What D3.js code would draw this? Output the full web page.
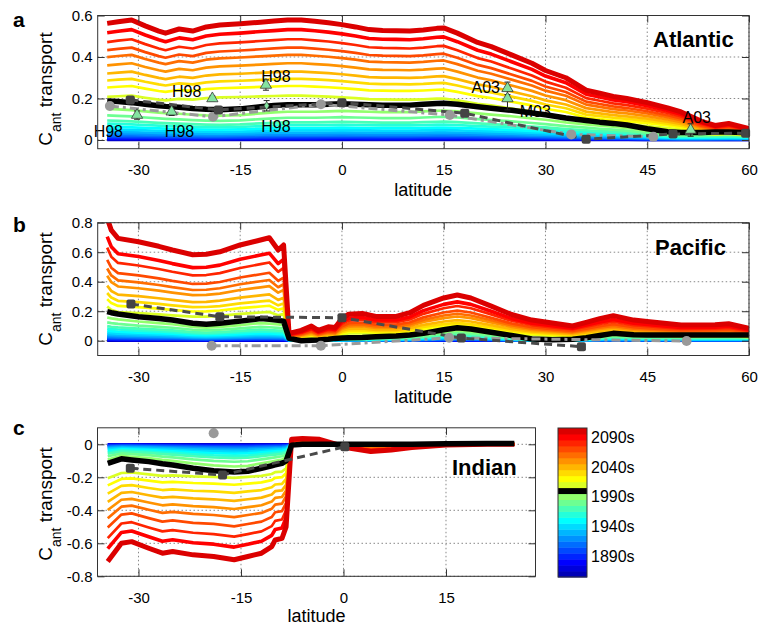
<!DOCTYPE html>
<html>
<head>
<meta charset="utf-8">
<script src="https://cdn.jsdelivr.net/npm/d3@7"></script>
<style>
  body { margin: 0; background: #fff; }
  svg text { font-family: "Liberation Sans", Arial, Helvetica, sans-serif; fill: #000; }
</style>
</head>
<body>
<svg id="fig" width="759" height="626"></svg>
<script>
// ---- data ----

// one curve per decade, 2000 is the present-day (black) curve
const decades = [1860, 1870, 1880, 1890, 1900, 1910, 1920, 1930, 1940, 1950, 1960, 1970, 1980,
                 1990, 2000, 2010, 2020, 2030, 2040, 2050, 2060, 2070, 2080, 2090, 2100];
const presentDecade = 2000;
const colorbarTicks = [1890, 1940, 1990, 2040, 2090];

// past decades (1860..1990) as a share of the present curve
const pastFrac = [0.005, 0.018, 0.035, 0.055, 0.085, 0.12, 0.16, 0.21, 0.27, 0.34, 0.42, 0.50, 0.63, 0.80];

// Atlantic
const atlLat = [-34.6, -33, -31, -29, -27, -26, -24, -22, -20, -18, -15, -12, -10, -8, -6, -4, -2, 0, 2, 4,
                6, 8, 10, 12, 14, 15, 17, 20, 22, 25, 28, 30, 33, 36, 38, 40, 42, 45, 48, 50, 53, 55, 57, 60];
const atl2100 = [0.562, 0.570, 0.578, 0.550, 0.525, 0.515, 0.535, 0.525, 0.545, 0.554,
                 0.560, 0.568, 0.573, 0.578, 0.578, 0.572, 0.565, 0.556, 0.545, 0.532,
                 0.528, 0.527, 0.525, 0.530, 0.538, 0.540, 0.515, 0.470, 0.450, 0.410,
                 0.370, 0.335, 0.300, 0.240, 0.225, 0.210, 0.200, 0.180, 0.155, 0.135,
                 0.090, 0.070, 0.080, 0.055];
const atl2000 = [0.188, 0.185, 0.180, 0.172, 0.165, 0.162, 0.158, 0.152, 0.148, 0.146,
                 0.150, 0.160, 0.166, 0.170, 0.170, 0.170, 0.172, 0.175, 0.172, 0.170,
                 0.168, 0.168, 0.168, 0.172, 0.176, 0.177, 0.172, 0.160, 0.153, 0.143,
                 0.130, 0.122, 0.106, 0.094, 0.086, 0.080, 0.072, 0.054, 0.040, 0.036,
                 0.036, 0.038, 0.039, 0.035];
// 2010..2090 as a share of the 2100 curve
const atlFutureFrac = [0.37, 0.45, 0.51, 0.57, 0.64, 0.71, 0.77, 0.84, 0.92];
const atlSquares = [[-31.2, 0.193], [-18.2, 0.145], [0, 0.18], [18.1, 0.129], [36, 0.003], [48.8, 0.029], [59.5, 0.033]];
const atlCircles = [[-34.2, 0.164], [-19, 0.112], [-3.1, 0.172], [15.9, 0.12], [33.8, 0.027], [45.9, 0.015]];
const atlTriangles = [[-30.2, 0.12, 0.02], [-25.1, 0.136, 0.018], [-19.1, 0.2, 0.012], [-11.2, 0.265, 0.025],
                      [24.4, 0.249, 0.03], [24.4, 0.2, 0.055], [51.4, 0.048, 0.03]];
const atlSmallObs = [[-11.1, 0.165, 0.025]];
const atlObsLabels = [["H98", -36.6, 0.012], ["H98", -26.1, 0.014], ["H98", -25.05, 0.205], ["H98", -11.9, 0.281],
                      ["H98", -11.9, 0.04], ["A03", 19.1, 0.228], ["M03", 26.2, 0.112], ["A03", 50.2, 0.08]];

// Pacific
const pacLat = [-34.6, -34, -33, -30, -27, -25, -22, -20, -18, -15, -12, -10.7, -9.4, -8.6, -7.8, -6, -4.5, -3.5, -2, -1,
                0, 1, 3, 5, 8, 10, 12, 15, 17, 19, 22, 25, 28, 31, 34, 36, 38, 40, 43, 45, 50, 55, 57, 60];
const pac2100 = [0.83, 0.75, 0.694, 0.671, 0.640, 0.615, 0.583, 0.586, 0.603, 0.649,
                 0.683, 0.698, 0.615, 0.649, 0.050, 0.070, 0.100, 0.070, 0.095, 0.090,
                 0.150, 0.180, 0.185, 0.165, 0.165, 0.190, 0.240, 0.290, 0.310, 0.290,
                 0.235, 0.178, 0.140, 0.120, 0.100, 0.125, 0.150, 0.170, 0.140, 0.130,
                 0.106, 0.108, 0.115, 0.085];
const pac2000 = [0.197, 0.190, 0.181, 0.163, 0.150, 0.140, 0.118, 0.111, 0.118, 0.133,
                 0.150, 0.145, 0.138, 0.133, 0.016, 0.000, 0.003, 0.005, 0.010, 0.016,
                 0.018, 0.020, 0.022, 0.027, 0.032, 0.039, 0.050, 0.075, 0.088, 0.080,
                 0.058, 0.035, 0.012, 0.006, 0.010, 0.020, 0.035, 0.050, 0.040, 0.039,
                 0.039, 0.039, 0.039, 0.039];
const pacFutureFrac = [0.28, 0.34, 0.39, 0.45, 0.53, 0.59, 0.66, 0.76, 0.85];
const pacSquares = [[-31.1, 0.249], [-18, 0.163], [0, 0.156], [17.6, 0.018], [35.3, -0.04]];
const pacCircles = [[-19.2, -0.034], [-3.1, -0.034], [15.8, 0.02], [50.8, -0.002]];

// Indian
const indLat = [-34.5, -32.5, -31, -28.5, -26.5, -25, -22, -19, -16, -14,
                -12, -10.5, -10, -9, -8.4, -7.6, -6, -3.5, -1, 1,
                4, 7, 10, 15, 21, 25];
const ind2100 = [-0.711, -0.600, -0.590, -0.630, -0.660, -0.650, -0.670, -0.680, -0.700, -0.680,
                 -0.660, -0.620, -0.580, -0.570, -0.500, 0.030, 0.035, 0.030, 0.000, -0.024,
                 -0.044, -0.034, -0.020, -0.004, 0.000, 0.000];
const ind2000 = [-0.115, -0.088, -0.095, -0.105, -0.118, -0.125, -0.145, -0.160, -0.168, -0.163,
                 -0.145, -0.130, -0.125, -0.115, -0.100, -0.005, 0.000, 0.000, 0.000, 0.000,
                 0.000, 0.000, 0.000, 0.003, 0.005, 0.005];
const indFutureFrac = [0.29, 0.35, 0.42, 0.49, 0.56, 0.63, 0.71, 0.80, 0.89];
const indSquares = [[-31.2, -0.145], [-17.7, -0.186], [0.2, -0.015]];
const indCircles = [[-19, 0.067]];

// ---- colours: Matlab jet(m) ----
function jetColors(m) {
  const n = Math.ceil(m / 4);
  const u = [];
  for (let i = 1; i <= n; i++) u.push(i / n);
  for (let i = 1; i < n; i++) u.push(1);
  for (let i = n; i >= 1; i--) u.push(i / n);
  const off = Math.ceil(n / 2) - (m % 4 === 1 ? 1 : 0);
  const J = Array.from({ length: m }, () => [0, 0, 0]);
  u.forEach((val, i) => {
    const g = off + i + 1, r = g + n, b = g - n;
    if (g >= 1 && g <= m) J[g - 1][1] = val;
    if (r >= 1 && r <= m) J[r - 1][0] = val;
    if (b >= 1 && b <= m) J[b - 1][2] = val;
  });
  return J.map(c => d3.rgb(c[0] * 255, c[1] * 255, c[2] * 255).formatHex());
}
const jet = jetColors(decades.length);
const decadeColor = (d, i) => d === presentDecade ? "#000" : jet[i];

// ---- build the decade curves ----
function buildCurves(lat, top, present, futureFrac) {
  const pi = decades.indexOf(presentDecade);
  return decades.map((dec, k) => {
    let vals;
    if (k < pi) vals = present.map(v => v * pastFrac[k]);
    else if (k === pi) vals = present;
    else if (k === decades.length - 1) vals = top;
    else vals = top.map(v => v * futureFrac[k - pi - 1]);
    return { decade: dec, k, pts: lat.map((l, i) => [l, vals[i]]) };
  });
}

const panels = [
  { id: "a", name: "Atlantic", x0: 97.7, x1: 749, y0: 15.5, y1: 148.7,
    xDom: [-36, 60], yDom: [-0.042, 0.6], xTicks: [-30, -15, 0, 15, 30, 45, 60], yTicks: [0, 0.2, 0.4, 0.6],
    curves: buildCurves(atlLat, atl2100, atl2000, atlFutureFrac),
    squares: atlSquares, circles: atlCircles, triangles: atlTriangles, small: atlSmallObs, labels: atlObsLabels,
    nameX: 653, nameY: 47, letterY: 27, ylabelY: 89, xlabelY: 196 },
  { id: "b", name: "Pacific", x0: 97.7, x1: 749, y0: 222.7, y1: 355.5,
    xDom: [-36, 60], yDom: [-0.1, 0.8], xTicks: [-30, -15, 0, 15, 30, 45, 60], yTicks: [0, 0.2, 0.4, 0.6, 0.8],
    curves: buildCurves(pacLat, pac2100, pac2000, pacFutureFrac),
    squares: pacSquares, circles: pacCircles, triangles: [], small: [], labels: [],
    nameX: 655, nameY: 255, letterY: 232, ylabelY: 289, xlabelY: 403 },
  { id: "c", name: "Indian", x0: 97.5, x1: 535.5, y0: 427.8, y1: 576.3,
    xDom: [-36, 28.1], yDom: [-0.8, 0.1], xTicks: [-30, -15, 0, 15], yTicks: [-0.8, -0.6, -0.4, -0.2, 0],
    curves: buildCurves(indLat, ind2100, ind2000, indFutureFrac),
    squares: indSquares, circles: indCircles, triangles: [], small: [], labels: [],
    nameX: 452, nameY: 475, letterY: 435, ylabelY: 504, xlabelY: 622 }
];

const svg = d3.select("#fig");
const axisColor = "#333";

panels.forEach(p => {
  const x = d3.scaleLinear().domain(p.xDom).range([p.x0, p.x1]);
  const y = d3.scaleLinear().domain(p.yDom).range([p.y1, p.y0]);
  const g = svg.append("g");

  g.append("clipPath").attr("id", "clip-" + p.id)
    .append("rect")
      .attr("x", p.x0).attr("y", p.y0)
      .attr("width", p.x1 - p.x0).attr("height", p.y1 - p.y0);

  // grid
  g.append("g").selectAll("line").data(p.xTicks).join("line")
    .attr("x1", d => x(d)).attr("x2", d => x(d))
    .attr("y1", p.y0).attr("y2", p.y1)
    .attr("stroke", "#888").attr("stroke-width", 1).attr("stroke-dasharray", "1.5,2.5");
  g.append("g").selectAll("line").data(p.yTicks).join("line")
    .attr("x1", p.x0).attr("x2", p.x1)
    .attr("y1", d => y(d)).attr("y2", d => y(d))
    .attr("stroke", "#888").attr("stroke-width", 1).attr("stroke-dasharray", "1.5,2.5");

  // decade curves, black present-day curve on top
  const line = d3.line().x(d => x(d[0])).y(d => y(d[1]));
  const plot = g.append("g").attr("clip-path", `url(#clip-${p.id})`);
  const order = p.curves.filter(c => c.decade !== presentDecade)
    .concat(p.curves.filter(c => c.decade === presentDecade));
  plot.selectAll("path.curve").data(order).join("path")
    .attr("class", "curve")
    .attr("d", c => line(c.pts))
    .attr("fill", "none")
    .attr("stroke", c => decadeColor(c.decade, c.k))
    .attr("stroke-width", c => c.decade === presentDecade ? 5.5 : c.decade === 2100 ? 5 : c.decade === 2090 ? 3.6 : 2.7)
    .attr("stroke-linejoin", "round");

  // observation-based estimates
  const obs = g.append("g");
  obs.append("path").datum(p.circles)
    .attr("d", line).attr("fill", "none")
    .attr("stroke", "#9a9a9a").attr("stroke-width", 3).attr("stroke-dasharray", "9,4,3,4");
  obs.append("path").datum(p.squares)
    .attr("d", line).attr("fill", "none")
    .attr("stroke", "#4a4a4a").attr("stroke-width", 3).attr("stroke-dasharray", "8,5");
  obs.selectAll("circle").data(p.circles).join("circle")
    .attr("cx", d => x(d[0])).attr("cy", d => y(d[1])).attr("r", 5)
    .attr("fill", "#999");
  obs.selectAll("rect").data(p.squares).join("rect")
    .attr("x", d => x(d[0]) - 4.5).attr("y", d => y(d[1]) - 4.5)
    .attr("width", 9).attr("height", 9).attr("rx", 2)
    .attr("fill", "#444");

  const bars = p.triangles.concat(p.small);
  obs.selectAll("g.err").data(bars).join("g").attr("class", "err")
    .each(function(d) {
      const e = d3.select(this), cx = x(d[0]);
      e.append("line").attr("x1", cx).attr("x2", cx)
        .attr("y1", y(d[1] - d[2])).attr("y2", y(d[1] + d[2]));
      [d[1] - d[2], d[1] + d[2]].forEach(v =>
        e.append("line").attr("x1", cx - 3).attr("x2", cx + 3).attr("y1", y(v)).attr("y2", y(v)));
    })
    .selectAll("line").attr("stroke", "#222").attr("stroke-width", 1);
  obs.selectAll("path.tri").data(p.triangles).join("path")
    .attr("class", "tri")
    .attr("transform", d => `translate(${x(d[0])},${y(d[1])})`)
    .attr("d", d3.symbol(d3.symbolTriangle, 55))
    .attr("fill", "#84e3a0").attr("stroke", "#3a3a3a").attr("stroke-width", 0.8);
  obs.selectAll("path.small").data(p.small).join("path")
    .attr("class", "small")
    .attr("transform", d => `translate(${x(d[0])},${y(d[1])})`)
    .attr("d", d3.symbol(d3.symbolDiamond, 22))
    .attr("fill", "#84e3a0").attr("stroke", "#3a3a3a").attr("stroke-width", 0.6);
  obs.selectAll("text").data(p.labels).join("text")
    .attr("x", d => x(d[1])).attr("y", d => y(d[2]))
    .attr("font-size", 16)
    .text(d => d[0]);

  // box and inward ticks on all sides
  const fmt = d => String(d);
  const axes = g.append("g").attr("color", axisColor);
  axes.append("g").attr("transform", `translate(0,${p.y1})`)
    .call(d3.axisBottom(x).tickValues(p.xTicks).tickFormat(fmt).tickSize(-7).tickSizeOuter(0).tickPadding(16))
    .call(a => a.selectAll("text").attr("font-size", 15).attr("fill", "#000"));
  axes.append("g").attr("transform", `translate(0,${p.y0})`)
    .call(d3.axisTop(x).tickValues(p.xTicks).tickFormat("").tickSize(-7).tickSizeOuter(0));
  axes.append("g").attr("transform", `translate(${p.x0},0)`)
    .call(d3.axisLeft(y).tickValues(p.yTicks).tickFormat(fmt).tickSize(-7).tickSizeOuter(0).tickPadding(5))
    .call(a => a.selectAll("text").attr("font-size", 15).attr("fill", "#000"));
  axes.append("g").attr("transform", `translate(${p.x1},0)`)
    .call(d3.axisRight(y).tickValues(p.yTicks).tickFormat("").tickSize(-7).tickSizeOuter(0));
  axes.selectAll(".domain").remove();
  g.append("rect")
    .attr("x", p.x0).attr("y", p.y0)
    .attr("width", p.x1 - p.x0).attr("height", p.y1 - p.y0)
    .attr("fill", "none").attr("stroke", axisColor).attr("stroke-width", 1);

  // labels
  g.append("text")
    .attr("x", (p.x0 + p.x1) / 2).attr("y", p.xlabelY)
    .attr("text-anchor", "middle").attr("font-size", 18)
    .text("latitude");
  const yl = g.append("text")
    .attr("transform", `translate(52,${p.ylabelY}) rotate(-90)`)
    .attr("text-anchor", "middle").attr("font-size", 19);
  yl.append("tspan").text("C");
  yl.append("tspan").attr("dy", 9).attr("font-size", 14).text("ant");
  yl.append("tspan").attr("dy", -9).text(" transport");

  g.append("text")
    .attr("x", p.nameX).attr("y", p.nameY)
    .attr("font-size", 22).attr("font-weight", "bold")
    .text(p.name);
  g.append("text")
    .attr("x", 13).attr("y", p.letterY)
    .attr("font-size", 21).attr("font-weight", "bold")
    .text(p.id);
});

// ---- colorbar ----
const cb = { x0: 558, x1: 587, y0: 428, y1: 577 };
const yc = d3.scaleLinear().domain([decades[0] - 5, decades[decades.length - 1] + 5]).range([cb.y1, cb.y0]);
const cbar = svg.append("g");
cbar.selectAll("rect").data(decades).join("rect")
  .attr("x", cb.x0).attr("width", cb.x1 - cb.x0)
  .attr("y", d => yc(d + 5)).attr("height", d => yc(d - 5) - yc(d + 5) + 0.5)
  .attr("fill", (d, i) => decadeColor(d, i));
cbar.append("rect")
  .attr("x", cb.x0).attr("y", cb.y0)
  .attr("width", cb.x1 - cb.x0).attr("height", cb.y1 - cb.y0)
  .attr("fill", "none").attr("stroke", axisColor).attr("stroke-width", 1);
cbar.selectAll("text").data(colorbarTicks).join("text")
  .attr("x", cb.x1 + 4).attr("y", d => yc(d))
  .attr("dy", "0.36em").attr("font-size", 16)
  .text(d => d + "s");
</script>
</body>
</html>
